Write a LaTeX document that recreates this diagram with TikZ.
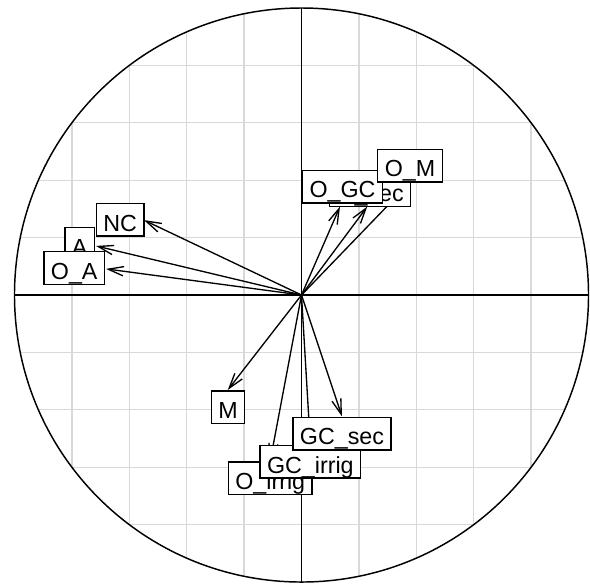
\documentclass[tikz,border=0pt]{standalone}
\usepackage{fontspec}
\setmainfont{Liberation Sans}
\usetikzlibrary{arrows.meta}
\definecolor{gridgrey}{RGB}{217,217,217}

\begin{document}
\begin{tikzpicture}[x=7.59cm,y=7.59cm,
    vec/.style={line width=1pt,-{Straight Barb[length=11.5pt,width=7pt]}},
    lab/.style={draw,fill=white,line width=1pt,inner xsep=5.3pt,inner ysep=0pt,
        text height=20.8pt,text depth=3.75pt,font=\fontsize{17.5}{19}\selectfont}]
    \useasboundingbox (-1.0505,-1.007) rectangle (1.0052,1.0279);
    \begin{scope}
        \clip (0,0) circle (1);
        \draw[gridgrey,line width=1pt,step=0.2] (-1,-1) grid (1,1);
    \end{scope}
    \draw[line width=1pt] (-1,0) -- (1,0);
    \draw[line width=1pt] (0,-1) -- (0,1);
    \draw[line width=1.1pt] (0,0) circle (1);
    \coordinate (o) at (0,0);
    \foreach \n/\x/\y in {A/-0.716/0.171, OA/-0.681/0.091, NC/-0.549/0.261,
        M/-0.257/-0.331, Oirrig/-0.109/-0.578, GCirrig/0.031/-0.524,
        GCsec/0.141/-0.423, Osec/0.229/0.308, OGC/0.134/0.308, OM/0.376/0.390}
        \coordinate (t\n) at (\x,\y);
    \foreach \n in {A,OA,NC,M,Oirrig,GCirrig,GCsec,Osec,OGC,OM}
        \draw[vec] (o) -- (t\n);
    \node[lab] (A) at (-0.773,0.178) {A};
    \node[lab] (OA) at (-0.792,0.094) {O\_A};
    \node[lab] (NC) at (-0.632,0.262) {NC};
    \node[lab] (M) at (-0.256,-0.391) {M};
    \node[lab] (Oirrig) at (-0.109,-0.639) {O\_irrig};
    \node[lab] (GCirrig) at (0.031,-0.581) {GC\_irrig};
    \node[lab] (GCsec) at (0.141,-0.483) {GC\_sec};
    \node[lab] (Osec) at (0.239,0.365) {O\_sec};
    \node[lab] (OGC) at (0.143,0.378) {O\_GC};
    \node[lab] (OM) at (0.378,0.451) {O\_M};
\end{tikzpicture}
\end{document}
